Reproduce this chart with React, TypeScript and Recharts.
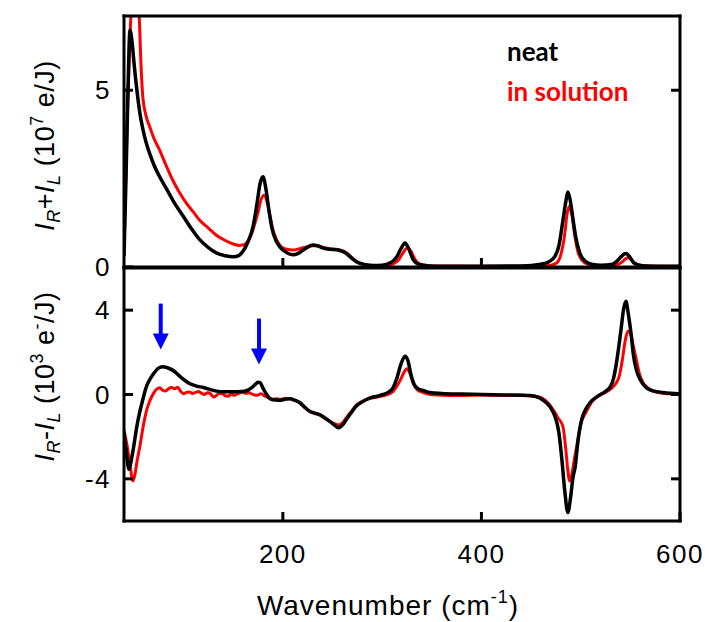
import React from 'react';
import { ComposedChart, Line, Scatter, XAxis, YAxis, Legend } from 'recharts';

const SERIES_NAMES = ['neat', 'in solution'];
const SERIES_COLORS = ['#000000', '#ff0000'];

// top panel: I_R + I_L (10^7 e/J)
const TOP_NEAT_X = [40, 42, 44, 46, 48, 50, 53, 56, 59, 62, 66, 70, 75, 83, 90, 100, 108, 116, 125, 133, 142, 150, 156, 160, 165, 170, 174, 177, 180, 183, 186, 189, 193, 197, 203, 210, 215, 220, 225, 230, 235, 240, 247, 254, 260, 264, 269, 274, 282, 291, 300, 306, 311, 315, 319, 323, 327, 331, 335, 341, 348, 360, 400, 440, 460, 468, 474, 478, 482, 485, 487, 489, 492, 495, 499, 505, 512, 520, 532, 537, 541, 544, 546, 549, 553, 558, 566, 580, 600];
const TOP_NEAT_Y = [0.3, 2.5, 5.0, 6.7, 6.4, 5.8, 5.0, 4.35, 3.9, 3.55, 3.2, 2.9, 2.6, 2.2, 1.85, 1.42, 1.08, 0.78, 0.55, 0.4, 0.32, 0.29, 0.33, 0.45, 0.72, 1.15, 1.8, 2.35, 2.55, 2.2, 1.6, 1.1, 0.75, 0.57, 0.42, 0.35, 0.38, 0.47, 0.56, 0.62, 0.6, 0.54, 0.5, 0.49, 0.44, 0.38, 0.26, 0.15, 0.07, 0.04, 0.05, 0.09, 0.17, 0.3, 0.52, 0.68, 0.5, 0.22, 0.1, 0.05, 0.03, 0.02, 0.02, 0.03, 0.08, 0.15, 0.3, 0.6, 1.3, 1.85, 2.12, 1.95, 1.4, 0.85, 0.4, 0.15, 0.07, 0.05, 0.08, 0.18, 0.3, 0.37, 0.38, 0.3, 0.13, 0.06, 0.03, 0.02, 0.02];

const TOP_SOL_X = [40, 42, 44, 46, 48, 50, 52, 54, 55.5, 57, 59, 62, 66, 70, 76, 82, 89, 96, 103, 110, 116, 125, 133, 142, 150, 156, 160, 164, 168, 172, 175, 178, 181, 184, 187, 190, 194, 198, 204, 210, 217, 224, 230, 235, 240, 247, 254, 260, 264, 269, 274, 282, 291, 300, 308, 313, 317, 321, 325, 329, 333, 337, 343, 350, 400, 460, 470, 476, 480, 484, 486, 488.5, 491, 494, 497, 501, 507, 515, 530, 538, 542, 545, 548, 551, 555, 560, 570, 600];
const TOP_SOL_Y = [0.5, 2.8, 4.8, 6.5, 7.8, 8.8, 9.0, 8.0, 7.0, 5.8, 4.8, 4.3, 3.96, 3.65, 3.3, 2.9, 2.46, 2.1, 1.8, 1.55, 1.33, 1.1, 0.9, 0.75, 0.65, 0.61, 0.62, 0.7, 0.9, 1.25, 1.55, 1.9, 2.03, 1.85, 1.45, 1.05, 0.75, 0.58, 0.5, 0.48, 0.52, 0.57, 0.6, 0.6, 0.56, 0.52, 0.5, 0.46, 0.4, 0.28, 0.16, 0.07, 0.04, 0.04, 0.06, 0.12, 0.22, 0.4, 0.53, 0.45, 0.22, 0.1, 0.05, 0.03, 0.02, 0.02, 0.05, 0.12, 0.35, 0.95, 1.45, 1.72, 1.5, 0.9, 0.45, 0.2, 0.08, 0.04, 0.04, 0.08, 0.15, 0.23, 0.26, 0.2, 0.1, 0.05, 0.03, 0.02];

// bottom panel: I_R - I_L (10^3 e-/J)
const BOT_NEAT_X = [40, 42, 45, 47, 50, 53, 56, 59, 62, 66, 70, 73, 76, 79, 83, 88, 92, 96, 101, 106, 113, 120, 127, 133, 140, 150, 158, 164, 168, 172, 175, 177, 180, 183, 186, 189, 193, 197, 202, 207, 212, 217, 222, 227, 232, 237, 242, 247, 252, 256, 260, 264, 269, 274, 280, 288, 295, 301, 306, 311, 315, 319, 323, 326, 329, 332, 336, 342, 348, 360, 380, 400, 430, 449, 458, 465, 470, 474, 478, 481, 484, 487, 490, 492, 494.5, 497, 501, 505, 509.5, 515, 520, 525, 530, 533, 536, 539, 541, 543, 545.5, 548, 551, 553, 556, 560, 566, 573, 583, 600];
const BOT_NEAT_Y = [-1.8, -2.6, -3.55, -3.2, -2.4, -1.5, -0.8, -0.24, 0.3, 0.71, 1.0, 1.18, 1.28, 1.32, 1.28, 1.18, 1.05, 0.87, 0.68, 0.52, 0.4, 0.33, 0.23, 0.16, 0.13, 0.13, 0.14, 0.19, 0.3, 0.47, 0.58, 0.56, 0.3, 0.05, -0.15, -0.24, -0.26, -0.27, -0.23, -0.2, -0.27, -0.38, -0.6, -0.79, -0.88, -0.95, -1.1, -1.26, -1.45, -1.58, -1.45, -1.18, -0.85, -0.55, -0.35, -0.16, -0.08, 0.0, 0.1, 0.32, 0.8, 1.45, 1.82, 1.6, 0.95, 0.5, 0.28, 0.18, 0.09, 0.05, 0.02, 0.0, -0.02, -0.05, -0.15, -0.38, -0.65, -1.03, -1.8, -3.08, -4.6, -5.6, -4.8, -4.0, -3.4, -2.3, -1.18, -0.7, -0.38, -0.15, 0.0, 0.15, 0.39, 0.75, 1.5, 2.5, 3.24, 4.0, 4.42, 3.8, 2.76, 1.9, 1.18, 0.7, 0.32, 0.17, 0.09, 0.02];

const BOT_SOL_X = [40, 43, 46, 49, 51, 53, 56, 59, 63, 66, 70, 73, 76, 79, 82, 85, 88, 91, 94, 97, 100, 103, 106, 109, 112, 115, 118, 121, 124, 127, 130, 133, 136, 139, 142, 145, 148, 151, 154, 157, 160, 163, 166, 170, 174, 178, 182, 186, 190, 194, 198, 202, 207, 212, 217, 222, 227, 232, 237, 242, 247, 252, 256, 260, 264, 269, 274, 280, 288, 295, 301, 306, 311, 315, 319, 322, 325, 328, 331, 334, 338, 344, 355, 380, 400, 420, 440, 455, 465, 472, 477, 482, 485, 487, 489, 491, 493.5, 496, 500, 505, 512, 518, 525, 530, 535, 539, 542, 545, 547.6, 550, 553, 556, 559, 562.6, 568, 573, 585, 600];
const BOT_SOL_Y = [-1.7, -2.4, -3.3, -4.1, -3.8, -3.2, -2.45, -1.6, -0.71, -0.3, 0.08, 0.25, 0.32, 0.2, 0.17, 0.28, 0.33, 0.28, 0.34, 0.15, 0.04, 0.1, 0.12, 0.05, 0.1, 0.14, 0.06, 0.0, 0.08, 0.04, -0.12, -0.05, 0.06, 0.04, -0.06, -0.08, 0.02, -0.04, 0.03, 0.08, 0.1, 0.05, 0.08, 0.0, -0.04, 0.04, -0.08, -0.15, -0.22, -0.2, -0.24, -0.18, -0.2, -0.28, -0.4, -0.62, -0.8, -0.9, -0.98, -1.12, -1.28, -1.38, -1.45, -1.35, -1.1, -0.8, -0.5, -0.32, -0.18, -0.12, -0.06, 0.0, 0.15, 0.4, 0.75, 1.05, 1.22, 1.0, 0.57, 0.3, 0.15, 0.05, -0.02, -0.05, -0.02, -0.05, -0.05, -0.1, -0.3, -0.7, -1.1, -1.5, -2.6, -3.6, -4.1, -3.8, -3.1, -2.45, -1.4, -0.87, -0.3, -0.05, 0.1, 0.25, 0.5, 0.9, 1.66, 2.6, 3.0, 2.9, 2.3, 1.66, 1.0, 0.57, 0.3, 0.16, 0.05, 0.0];

// blue arrows marking the extra neat-only features
const ARROW_X = [77, 176];
const ARROW_Y = [2.13, 1.42];

const X_DOMAIN = [40, 600];
const X_TICKS = [200, 400, 600];
const TOP_Y_DOMAIN = [0, 7.1];
const TOP_Y_TICKS = [0, 5];
const BOT_Y_DOMAIN = [-6, 6];
const BOT_Y_TICKS = [-4, 0, 4];

const zip = (xs: number[], ys: number[]) => xs.map((x, i) => ({ x, y: ys[i] }));

const FONT = '"Liberation Sans", Arial, sans-serif';
const AXIS_LINE = { stroke: '#000', strokeWidth: 3, strokeLinecap: 'square' as const };
const TICK_LEN = 9;

function makeTick(dir: 'up' | 'down' | 'left' | 'right', showLabel: boolean) {
  return (props: any) => {
    const { x, y, payload } = props;
    const dx = dir === 'left' ? TICK_LEN : dir === 'right' ? -TICK_LEN : 0;
    const dy = dir === 'up' ? -TICK_LEN : dir === 'down' ? TICK_LEN : 0;
    return (
      <g>
        <line x1={x} y1={y} x2={x + dx} y2={y + dy} stroke="#000" strokeWidth={3} />
        {showLabel && dir === 'up' && (
          <text x={x} y={y + 33} textAnchor="middle" dominantBaseline="central" fontFamily={FONT} fontSize={26} letterSpacing={1.5} fill="#000">
            {payload.value}
          </text>
        )}
        {showLabel && dir === 'left' && (
          <text x={x - 13} y={y} textAnchor="end" dominantBaseline="central" fontFamily={FONT} fontSize={26} letterSpacing={1.5} fill="#000">
            {payload.value}
          </text>
        )}
      </g>
    );
  };
}

const yTitle = (kind: 'sum' | 'diff', shift: number) => (props: any) => {
  const vb = props.viewBox;
  const x = 54;
  const y = vb.y + vb.height / 2 + shift;
  return (
    <text x={x} y={y} transform={`rotate(-90 ${x} ${y})`} textAnchor="middle" fontFamily={FONT} fontSize={27} letterSpacing={0.5} fill="#000">
      <tspan fontStyle="italic">I</tspan>
      <tspan fontStyle="italic" fontSize={18} dy={6}>R</tspan>
      <tspan dy={-6}>{kind === 'sum' ? '+' : '-'}</tspan>
      <tspan fontStyle="italic">I</tspan>
      <tspan fontStyle="italic" fontSize={18} dy={6}>L</tspan>
      <tspan dy={-6}> (10</tspan>
      <tspan fontSize={18} dy={-11}>{kind === 'sum' ? '7' : '3'}</tspan>
      {kind === 'sum' ? (
        <tspan dy={11}> e/J)</tspan>
      ) : (
        <>
          <tspan dy={11}> e</tspan>
          <tspan fontSize={18} dy={-11}>-</tspan>
          <tspan dy={11}>/J)</tspan>
        </>
      )}
    </text>
  );
};

const xTitle = () => {
  const x = 388;
  const y = 615;
  return (
    <text x={x} y={y} textAnchor="middle" fontFamily={FONT} fontSize={28} letterSpacing={1} fill="#000">
      <tspan>Wavenumber (cm</tspan>
      <tspan fontSize={18} dy={-12}>-1</tspan>
      <tspan dy={12}>)</tspan>
    </text>
  );
};

const renderLegend = (props: any) => {
  const payload = props.payload || [];
  return (
    <div style={{ fontFamily: 'Lato, "Open Sans", sans-serif', fontWeight: 700, fontSize: 26, lineHeight: '40px', textAlign: 'left' }}>
      {SERIES_NAMES.map((name, i) => {
        const item = payload.find((p: any) => p.value === name);
        return (
          <div key={name} style={{ color: item ? item.color : SERIES_COLORS[i] }}>
            {name}
          </div>
        );
      })}
    </div>
  );
};

const ArrowShape = (props: any) => {
  const { cx, cy } = props;
  return (
    <g>
      <line x1={cx} y1={cy - 46} x2={cx} y2={cy - 14} stroke="#0000ff" strokeWidth={4} />
      <polygon points={`${cx - 8},${cy - 16} ${cx + 8},${cy - 16} ${cx},${cy}`} fill="#0000ff" />
    </g>
  );
};

// axis boxes are 1px thick (recharts skips axes of size 0), so margins are 1px smaller
const axisCommon = { type: 'number' as const, allowDataOverflow: true, interval: 0 as const, tickSize: 0, tickMargin: 0, axisLine: AXIS_LINE, tickLine: false };

export default function App() {
  const W = 705;
  const H = 622;
  return (
    <div style={{ position: 'absolute', left: 0, top: 0, width: W, height: H, background: '#fff' }}>
      <div style={{ position: 'absolute', left: 0, top: 0 }}>
        <ComposedChart width={W} height={H} margin={{ top: 15, right: 24, bottom: 354, left: 123 }}>
          <XAxis {...axisCommon} dataKey="x" domain={X_DOMAIN} ticks={[200, 400]} height={1} tick={makeTick('up', false)} />
          <XAxis {...axisCommon} xAxisId="top" orientation="top" domain={X_DOMAIN} ticks={[200, 400]} height={1} tick={makeTick('down', false)} />
          <YAxis {...axisCommon} domain={TOP_Y_DOMAIN} ticks={TOP_Y_TICKS} width={1} tick={makeTick('left', true)} label={{ content: yTitle('sum', 4) }} />
          <YAxis {...axisCommon} yAxisId="right" orientation="right" domain={TOP_Y_DOMAIN} ticks={[5]} width={1} tick={makeTick('right', false)} />
          <Legend content={renderLegend} layout="vertical" verticalAlign="middle" align="center" wrapperStyle={{ left: 507, top: 31, width: 180 }} />
          <Line data={zip(TOP_SOL_X, TOP_SOL_Y)} dataKey="y" name={SERIES_NAMES[1]} type="monotone" stroke={SERIES_COLORS[1]} strokeWidth={3} dot={false} activeDot={false} isAnimationActive={false} />
          <Line data={zip(TOP_NEAT_X, TOP_NEAT_Y)} dataKey="y" name={SERIES_NAMES[0]} type="monotone" stroke={SERIES_COLORS[0]} strokeWidth={3.5} dot={false} activeDot={false} isAnimationActive={false} />
        </ComposedChart>
      </div>
      <div style={{ position: 'absolute', left: 0, top: 0 }}>
        <ComposedChart width={W} height={H} margin={{ top: 267, right: 24, bottom: 100, left: 123 }}>
          <XAxis {...axisCommon} dataKey="x" domain={X_DOMAIN} ticks={X_TICKS} height={1} tick={makeTick('up', true)} label={{ content: xTitle }} />
          <XAxis {...axisCommon} xAxisId="top" orientation="top" domain={X_DOMAIN} ticks={[200, 400]} height={1} tick={makeTick('down', false)} />
          <YAxis {...axisCommon} domain={BOT_Y_DOMAIN} ticks={BOT_Y_TICKS} width={1} tick={makeTick('left', true)} label={{ content: yTitle('diff', -18) }} />
          <YAxis {...axisCommon} yAxisId="right" orientation="right" domain={BOT_Y_DOMAIN} ticks={BOT_Y_TICKS} width={1} tick={makeTick('right', false)} />
          <Line data={zip(BOT_SOL_X, BOT_SOL_Y)} dataKey="y" name={SERIES_NAMES[1]} type="monotone" stroke={SERIES_COLORS[1]} strokeWidth={3} dot={false} activeDot={false} isAnimationActive={false} />
          <Line data={zip(BOT_NEAT_X, BOT_NEAT_Y)} dataKey="y" name={SERIES_NAMES[0]} type="monotone" stroke={SERIES_COLORS[0]} strokeWidth={3.5} dot={false} activeDot={false} isAnimationActive={false} />
          <Scatter data={zip(ARROW_X, ARROW_Y)} dataKey="y" shape={ArrowShape} legendType="none" isAnimationActive={false} />
        </ComposedChart>
      </div>
    </div>
  );
}
